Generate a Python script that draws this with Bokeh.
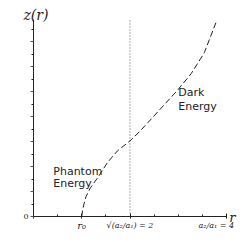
from bokeh.plotting import figure
from bokeh.models import FixedTicker, Label, LinearAxis
from bokeh.core.properties import value
from bokeh.embed import file_html
from bokeh.resources import INLINE

# curve z(r)
r_vals = [1.0, 1.02, 1.05, 1.09, 1.18, 1.33, 1.53, 1.74, 2.0, 2.2, 2.45, 2.7, 2.98, 3.27, 3.54, 3.79]
z_vals = [0.0, 0.55, 1.05, 1.6, 2.3, 3.1, 4.3, 5.25, 6.05, 6.8, 7.84, 8.9, 10.08, 11.44, 13.1, 15.6]

r_crit = 2.0
z_top = 15.7

x_ticks = [0, 1, 2, 4]
x_minor = [0.5, 1.5, 2.5, 3, 3.5]
x_labels = ["", "r\u2080", "", ""]

# labels of the two rightmost ticks (drawn by a second, line-less axis)
x2_ticks = [2, 3.79]
x2_labels = ["\u221a(a\u2082/a\u2081) = 2", "a\u2082/a\u2081 = 4"]

y_ticks = [0, 2, 4, 6, 8, 10, 12, 14]
y_minor = [1, 3, 5, 7, 9, 11, 13, 15]
y_labels = ["0", "", "", "", "", "", "", ""]

note_x = [0.41, 0.41, 3.0, 3.0]
note_y = [3.6, 2.64, 9.92, 8.8]
note_text = ["Phantom", "Energy", "Dark", "Energy"]

p = figure(width=248, height=242, x_range=(-0.684, 4.456), y_range=(-2.08, 17.28),
           output_backend="svg", toolbar_location=None,
           x_axis_location=None, y_axis_location=None,
           min_border_left=0, min_border_right=0, min_border_top=0, min_border_bottom=0)
p.grid.visible = False
p.outline_line_color = None
p.background_fill_color = "white"

ax = LinearAxis(fixed_location=0)
ax.ticker = FixedTicker(ticks=x_ticks, minor_ticks=x_minor)
ax.major_label_overrides = {t: l for t, l in zip(x_ticks, x_labels)}
ax.bounds = (0, 4)
ax.axis_line_color = "#222222"
ax.major_tick_line_color = "#222222"
ax.minor_tick_line_color = "#222222"
ax.major_tick_in = 3
ax.major_tick_out = 2
ax.minor_tick_in = 2
ax.minor_tick_out = 0
ax.major_label_standoff = 1
ax.major_label_text_font = "DejaVu Serif"
ax.major_label_text_font_style = "italic"
ax.major_label_text_font_size = "10px"
ax.major_label_text_color = "#222222"
p.add_layout(ax, "below")

ax2 = LinearAxis(fixed_location=0)
ax2.ticker = FixedTicker(ticks=x2_ticks, minor_ticks=[])
ax2.major_label_overrides = {t: l for t, l in zip(x2_ticks, x2_labels)}
ax2.axis_line_color = None
ax2.major_tick_line_color = None
ax2.minor_tick_line_color = None
ax2.major_tick_in = 0
ax2.major_tick_out = 2
ax2.major_label_standoff = 2
ax2.major_label_text_font = "DejaVu Serif"
ax2.major_label_text_font_style = "italic"
ax2.major_label_text_font_size = "8px"
ax2.major_label_text_color = "#222222"
p.add_layout(ax2, "below")

ay = LinearAxis(fixed_location=0)
ay.ticker = FixedTicker(ticks=y_ticks, minor_ticks=y_minor)
ay.major_label_overrides = {t: l for t, l in zip(y_ticks, y_labels)}
ay.bounds = (0, 15.8)
ay.axis_line_color = "#222222"
ay.major_tick_line_color = "#555555"
ay.minor_tick_line_color = "#222222"
ay.major_tick_in = 0
ay.major_tick_out = 3
ay.minor_tick_in = 0
ay.minor_tick_out = 2
ay.major_label_standoff = 2
ay.major_label_text_font = "DejaVu Serif"
ay.major_label_text_font_size = "8px"
ay.major_label_text_color = "#222222"
p.add_layout(ay, "left")

p.segment(x0=[r_crit], y0=[0], x1=[r_crit], y1=[z_top], line_color="#555555",
          line_width=1, line_dash="1 2")
p.line(r_vals, z_vals, line_color="#222222", line_width=1, line_dash="6 3")

p.text(x=note_x, y=note_y, text=note_text, text_font=value("DejaVu Sans"),
       text_font_size="11px", text_baseline="middle", text_align="left",
       text_color="#222222")

p.add_layout(Label(x=0.05, y=16.16, text="z(r)", text_align="center", text_baseline="alphabetic",
                   text_font="DejaVu Serif", text_font_style="italic",
                   text_font_size="14px", text_color="#222222"))
p.add_layout(Label(x=4.12, y=-0.1, text="r", text_align="center", text_baseline="alphabetic",
                   text_font="DejaVu Serif", text_font_style="italic",
                   text_font_size="13px", text_color="#222222"))

open("out.html", "w").write(file_html(p, INLINE))
